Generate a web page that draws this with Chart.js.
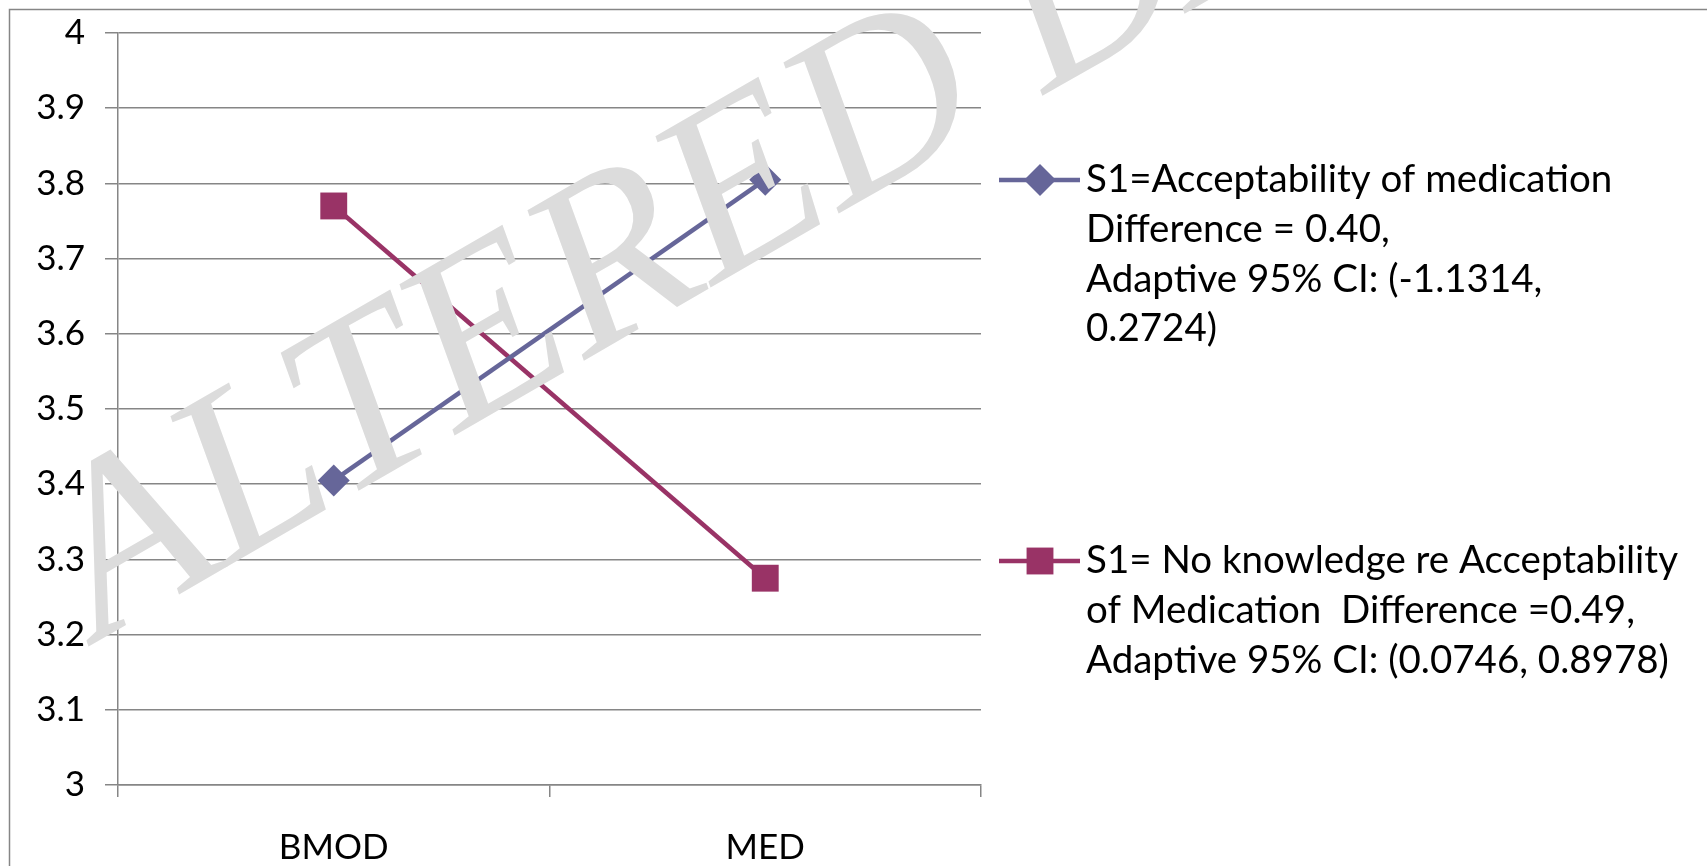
<!DOCTYPE html>
<html>
<head>
<meta charset="utf-8">
<script src="https://cdn.jsdelivr.net/npm/chart.js@4.4.1/dist/chart.umd.min.js"></script>
<style>
  html, body { margin: 0; padding: 0; background: #fff; }
  #wrap { width: 1707px; height: 866px; position: relative; }
</style>
</head>
<body>
<div id="wrap"><canvas id="chart"></canvas></div>
<script>
// values
var categories = ["BMOD", "MED"];
var acceptValues = [3.405, 3.805];
var noKnowledgeValues = [3.77, 3.275];
var yTicks = [3, 3.1, 3.2, 3.3, 3.4, 3.5, 3.6, 3.7, 3.8, 3.9, 4];

var legendLines1 = ["S1=Acceptability of medication", "Difference = 0.40,", "Adaptive 95% CI: (-1.1314,", "0.2724)"];
var legendLines2 = ["S1= No knowledge re Acceptability", "of Medication  Difference =0.49,", "Adaptive 95% CI: (0.0746, 0.8978)"];
var watermarkText = "ALTERED DATA";

var gridColor = "#868686";
var fontFamily = "Lato, 'Open Sans', sans-serif";

// legend drawn by hand on the right, since labels run over several lines
var sideLegend = {
    id: "sideLegend",
    afterDraw: function(chart) {
        var ctx = chart.ctx;
        var rows = [legendLines1, legendLines2];
        var rowY = [180, 561];
        ctx.save();
        for (var i = 0; i < rows.length; i++) {
            var ds = chart.data.datasets[i];
            var y = rowY[i];
            ctx.strokeStyle = ds.borderColor;
            ctx.lineWidth = ds.borderWidth;
            ctx.beginPath();
            ctx.moveTo(999, y);
            ctx.lineTo(1080, y);
            ctx.stroke();
            ctx.fillStyle = ds.backgroundColor;
            ctx.strokeStyle = ds.borderColor;
            Chart.helpers.drawPoint(ctx, {
                pointStyle: ds.pointStyle,
                radius: ds.pointRadius,
                rotation: 0,
                borderWidth: 0
            }, 1040, y);

            ctx.fillStyle = "#000";
            ctx.font = "38.5px " + fontFamily;
            ctx.textBaseline = "middle";
            ctx.textAlign = "left";
            for (var j = 0; j < rows[i].length; j++) {
                ctx.fillText(rows[i][j], 1086, y + j * 49.6);
            }
        }
        ctx.restore();
    }
};

var frameAndMark = {
    id: "frameAndMark",
    beforeDraw: function(chart) {
        var ctx = chart.ctx;
        ctx.save();
        ctx.strokeStyle = gridColor;
        ctx.lineWidth = 1.5;
        ctx.strokeRect(9.5, 9.5, 2000, 1000);
        ctx.restore();
    },
    afterDraw: function(chart) {
        var ctx = chart.ctx;
        ctx.save();
        ctx.translate(100, 640);
        ctx.rotate(-30 * Math.PI / 180);
        ctx.fillStyle = "#dcdcdc";
        ctx.font = "italic 242px 'Liberation Serif', 'DejaVu Serif', serif";
        ctx.textBaseline = "alphabetic";
        ctx.fillText(watermarkText, 0, 0);
        ctx.restore();
    }
};

var ctx = document.getElementById("chart");
var chart = new Chart(ctx, {
    type: "line",
    data: {
        labels: categories,
        datasets: [
            {
                label: legendLines1.join(" "),
                data: acceptValues,
                borderColor: "#666699",
                backgroundColor: "#666699",
                borderWidth: 4.5,
                pointStyle: "rectRot",
                pointRadius: 16,
                pointBorderWidth: 0,
                clip: false
            },
            {
                label: legendLines2.join(" "),
                data: noKnowledgeValues,
                borderColor: "#993366",
                backgroundColor: "#993366",
                borderWidth: 4.5,
                pointStyle: "rect",
                pointRadius: 19,
                pointBorderWidth: 0,
                clip: false
            }
        ]
    },
    options: {
        responsive: true,
        maintainAspectRatio: false,
        animation: false,
        events: [],
        layout: { padding: { left: 0, top: 33, right: 726, bottom: 0 } },
        plugins: {
            legend: { display: false },
            tooltip: { enabled: false }
        },
        scales: {
            x: {
                offset: true,
                grid: { offset: true, drawOnChartArea: false, drawTicks: true, tickLength: 12, color: gridColor, lineWidth: 1.5 },
                border: { display: true, color: gridColor, width: 1.5 },
                ticks: { color: "#000", font: { family: fontFamily, size: 35 }, padding: 30 },
                afterFit: function(s) { s.height = 81; s.paddingLeft = 0; s.paddingRight = 0; }
            },
            y: {
                min: 3,
                max: 4,
                afterBuildTicks: function(axis) {
                    axis.ticks = yTicks.map(function(v) { return { value: v }; });
                },
                grid: { color: gridColor, lineWidth: 1.5, drawTicks: true, tickLength: 13 },
                border: { display: true, color: gridColor, width: 1.5 },
                ticks: {
                    color: "#000",
                    font: { family: fontFamily, size: 35 },
                    padding: 20,
                    callback: function(v) { return String(Math.round(v * 10) / 10); }
                },
                afterFit: function(s) { s.width = 118; s.paddingTop = 0; s.paddingBottom = 0; }
            }
        }
    },
    plugins: [frameAndMark, sideLegend]
});
</script>
</body>
</html>
